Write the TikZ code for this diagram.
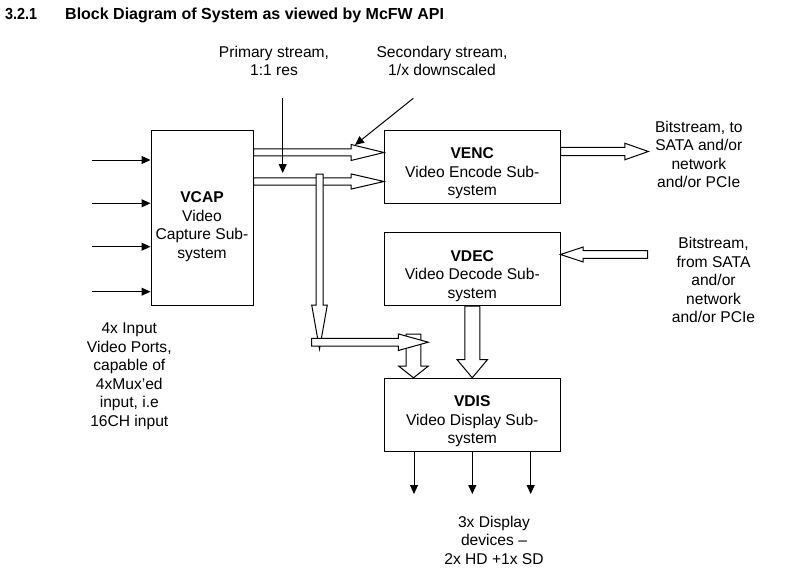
\documentclass[tikz,border=0pt]{standalone}
\usepackage{fontspec}
\setmainfont{Liberation Sans}
\usetikzlibrary{arrows.meta,calc}
\tikzset{
  box/.style={draw,line width=1pt,inner sep=0pt},
  lbl/.style={align=center,inner sep=0pt,font=\fontsize{15.6}{18.5}\selectfont},
  ttl/.style={anchor=base west,inner sep=0pt,font=\fontsize{16}{19}\selectfont\bfseries},
  thinarr/.style={line width=1pt,-{Triangle[length=9pt,width=8pt]}},
  hollow/.style={draw,line width=1pt,fill=white,line join=miter},
}
% #1 from, #2 to, #3 shaft half width, #4 head half width, #5 head length
\newcommand\hollowarr[5]{%
  \coordinate (hab) at ($(#2)!#5!(#1)$);
  \path[hollow] ($(#1)!#3!90:(#2)$) -- ($(hab)!#3!90:(#2)$) -- ($(hab)!#4!90:(#2)$)
    -- (#2) -- ($(hab)!#4!-90:(#2)$) -- ($(hab)!#3!-90:(#2)$) -- ($(#1)!#3!-90:(#2)$) -- cycle;}
\begin{document}
\begin{tikzpicture}[x=1pt,y=-1pt]
\useasboundingbox (0,0) rectangle (791,580);
% title
\node[ttl] (num) at (5,19.5) {\scalebox{0.9}[1]{3.2.1}};
\node[ttl] (title) at (65,19.5) {Block Diagram of System as viewed by McFW API};
% boxes
\node[box,minimum width=102pt,minimum height=174.5pt] (vcap) at (202,217.75) {};
\node[box,minimum width=175.5pt,minimum height=72.5pt] (venc) at (472.25,166.75) {};
\node[box,minimum width=175.5pt,minimum height=72.8pt] (vdec) at (472.25,269.1) {};
\node[box,minimum width=175.5pt,minimum height=73.4pt] (vdis) at (472.25,415) {};
% box texts
\node[lbl] (vcapt) at (202,226.5) {\textbf{VCAP}\\Video\\Capture Sub-\\system};
\node[lbl] (venct) at (472.25,173.5) {\textbf{VENC}\\Video Encode Sub-\\system};
\node[lbl] (vdect) at (472.25,275.9) {\textbf{VDEC}\\Video Decode Sub-\\system};
\node[lbl] (vdist) at (472.25,421.5) {\textbf{VDIS}\\Video Display Sub-\\system};
% free texts
\node[lbl] (primt) at (274,60.9) {Primary stream,\\1:1 res};
\node[lbl] (sect) at (442,60.9) {Secondary stream,\\1/x downscaled};
\node[lbl] (inpt) at (129.3,376) {4x Input\\Video Ports,\\capable of\\4xMux'ed\\input, i.e\\16CH input};
\node[lbl] (bsto) at (698.8,154.2) {Bitstream, to\\SATA and/or\\network\\and/or PCIe};
\node[lbl] (bsfrom) at (713.5,280) {Bitstream,\\from SATA\\and/or\\network\\and/or PCIe};
\node[lbl] (dispt) at (494,540) {3x Display\\devices --\\2x HD +1x SD};
% input arrows
\foreach \yy [count=\i] in {160,203.3,246.7,291.7} {
  \coordinate (in\i) at (91.7,\yy);
  \draw[thinarr] (in\i) -- (in\i -| vcap.west);
}
% output arrows
\foreach \xx [count=\i] in {414,472.3,530.7} {
  \coordinate (out\i) at (\xx,494);
  \draw[thinarr] (out\i |- vdis.south) -- (out\i);
}
% hollow arrows
\coordinate (a1s) at (vcap.east |- 0,152.5);
\coordinate (a1e) at (venc.west |- 0,152.5);
\hollowarr{a1s}{a1e}{3.5pt}{8pt}{33pt}
\coordinate (a2s) at (vcap.east |- 0,181.5);
\coordinate (a2e) at (venc.west |- 0,181.5);
\hollowarr{a2s}{a2e}{3.6pt}{7.6pt}{33pt}
\coordinate (a3s) at (venc.east |- 0,151.5);
\coordinate (encout) at (648.3,151.5);
\hollowarr{a3s}{encout}{4.1pt}{8.3pt}{23.5pt}
\coordinate (decin) at (647.7,254.5);
\coordinate (a4e) at (vdec.east |- decin);
\hollowarr{decin}{a4e}{3.8pt}{7.5pt}{22.7pt}
\coordinate (a8e) at (vdec.south |- vdis.north);
\hollowarr{vdec.south}{a8e}{7.5pt}{15.3pt}{18.3pt}
\coordinate (split) at (319.5,174);
\coordinate (splittip) at (319.5,349);
\hollowarr{split}{splittip}{3.5pt}{7.8pt}{44pt}
\coordinate (dispin) at (413.5,334);
\coordinate (a7e) at (dispin |- vdis.north);
\hollowarr{dispin}{a7e}{7.3pt}{14.7pt}{11.6pt}
\coordinate (join) at (311.7,342.2);
\coordinate (jointip) at (428.3,342.2);
\hollowarr{join}{jointip}{3.8pt}{8.3pt}{30pt}
% stream pointers
\coordinate (prim) at (282.7,98.3);
\coordinate (primtip) at (282.7,173);
\draw[thinarr] (prim) -- (primtip);
\coordinate (sec) at (413.3,98.3);
\coordinate (sectip) at (355,145);
\draw[thinarr] (sec) -- (sectip);
\end{tikzpicture}
\end{document}
